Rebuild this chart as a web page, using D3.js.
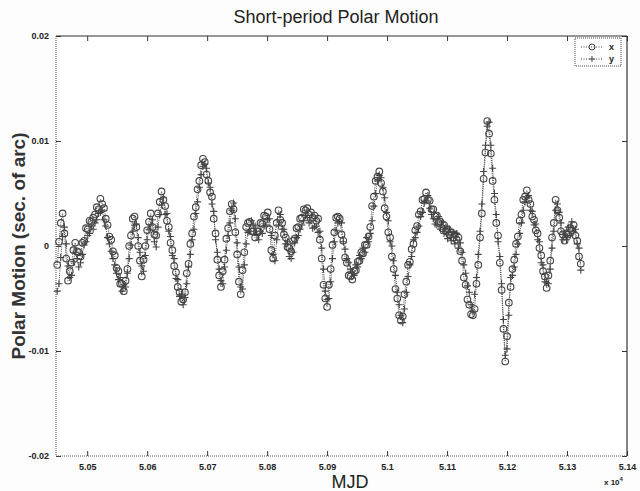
<!DOCTYPE html>
<html>
<head>
<meta charset="utf-8">
<script src="https://cdn.jsdelivr.net/npm/d3@7"></script>
<style>
  body { margin: 0; background: #fdfdfd; }
  svg { display: block; }
  .axis text { font: bold 9px "Liberation Sans", Arial, sans-serif; fill: #222; }
</style>
</head>
<body>
<svg id="chart"></svg>
<script>
// epochs: every 3 days from MJD 50450
var mjd = d3.range(50450, 51326, 3);

// x component of short-period polar motion, 0.001 sec. of arc
var pmX = [
  -1.8, 0.4, 2.2, 3.1, 1.2, -1.2, -3.3, -2.4, -1.6, -0.4,
  0.3, -0.5, -0.6, -1.0, 0.3, 0.5, 1.7, 1.6, 2.4, 2.3,
  2.7, 3.0, 3.7, 3.5, 4.5, 4.0, 3.6, 2.6, 2.0, 0.9,
  0.6, -0.5, -0.9, -2.1, -2.4, -3.6, -3.6, -4.3, -3.3, -2.2,
  0.0, 1.0, 2.6, 2.8, 1.8, 0.0, -1.4, -2.9, -1.3, 0.0,
  1.5, 2.3, 3.1, 1.8, 1.1, 1.0, 3.1, 4.2, 5.2, 4.4,
  3.8, 2.4, 1.8, 0.3, -0.4, -1.9, -2.5, -3.9, -4.4, -5.3,
  -5.1, -4.4, -2.6, -1.7, 0.2, 1.2, 2.8, 3.7, 5.4, 6.2,
  7.7, 8.3, 8.0, 6.8, 6.2, 5.1, 4.7, 2.6, 1.2, -1.3,
  -2.8, -3.9, -2.4, -1.3, 0.7, 1.7, 3.3, 4.0, 3.5, 1.3,
  -0.8, -3.4, -4.6, -2.3, -0.6, 1.8, 2.2, 2.3, 1.4, 1.4,
  0.8, 1.4, 1.4, 2.2, 2.1, 2.9, 2.8, 3.2, 1.6, -0.4,
  -1.2, 1.0, 2.2, 3.4, 2.5, 2.2, 1.1, 0.8, -0.1, -0.2,
  -0.5, 0.5, 0.7, 1.7, 1.8, 2.6, 2.7, 3.5, 3.4, 3.6,
  3.0, 3.2, 2.7, 2.9, 2.4, 2.6, 0.6, -1.2, -3.7, -5.0,
  -5.8, -3.7, -2.2, 0.1, 1.3, 2.7, 2.8, 2.6, 1.1, 0.5,
  -1.1, -1.6, -2.8, -2.9, -3.2, -2.4, -2.3, -1.5, -1.4, -0.6,
  -0.7, 0.1, 0.1, 0.9, 1.8, 3.8, 4.7, 6.2, 6.6, 7.1,
  6.0, 5.2, 3.6, 2.8, 1.3, 0.8, -1.0, -2.2, -4.1, -5.0,
  -6.6, -7.1, -6.7, -4.6, -3.4, -1.8, -1.5, -0.3, 0.2, 1.5,
  1.9, 3.0, 3.3, 4.4, 4.5, 5.1, 4.4, 4.3, 3.5, 3.5,
  2.8, 2.9, 2.2, 2.3, 1.7, 2.0, 1.4, 1.6, 1.1, 1.3,
  0.8, 1.1, 0.6, 0.8, -0.5, -1.4, -3.0, -3.7, -5.1, -5.6,
  -6.5, -6.6, -6.0, -3.6, -1.8, 0.8, 3.1, 6.4, 8.9, 11.9,
  10.7, 8.8, 6.2, 4.4, 2.2, 1.0, -1.6, -4.2, -7.9, -11.0,
  -8.6, -5.4, -3.9, -2.2, -1.3, 0.2, 0.9, 2.4, 3.0, 4.4,
  4.7, 5.3, 4.4, 4.0, 2.8, 2.5, 1.5, 1.2, -0.2, -0.9,
  -2.4, -2.9, -4.0, -2.8, -1.4, 0.8, 2.2, 4.4, 3.4, 2.7,
  1.4, 1.1, 0.5, 1.2, 1.1, 1.7, 1.5, 2.0, 1.0, 0.5,
  -1.0, -1.7
];

// y component, same epochs
var pmY = [
  -4.3, -3.6, -1.1, 0.9, 1.8, 0.2, -1.9, -3.0, -2.8, -1.5,
  -0.6, -1.2, -2.0, -1.6, -0.8, 0.1, 0.4, 1.0, 1.2, 1.9,
  1.6, 2.2, 2.5, 3.1, 3.2, 3.4, 2.5, 1.9, 0.8, 0.2,
  -0.5, -1.2, -1.8, -2.6, -3.2, -3.0, -4.3, -3.7, -3.9, -2.6,
  -1.2, 0.1, 1.4, 2.0, 2.1, 0.8, -0.6, -1.9, -2.4, -0.9,
  0.6, 1.6, 2.0, 2.5, 0.4, -0.1, 1.8, 3.0, 3.9, 4.6,
  3.0, 3.1, 1.4, 0.9, -0.9, -1.2, -3.1, -3.2, -4.8, -4.6,
  -5.6, -4.9, -3.6, -2.0, -0.8, 0.6, 1.6, 3.1, 4.2, 5.6,
  6.8, 7.6, 7.8, 7.4, 6.0, 5.6, 4.0, 3.3, 0.6, -0.6,
  -2.2, -3.3, -3.6, -2.0, -0.4, 1.0, 2.2, 3.4, 4.1, 2.6,
  0.3, -2.0, -3.9, -4.1, -1.8, 0.2, 1.3, 1.4, 2.4, 2.0,
  1.9, 1.0, 0.6, 1.4, 1.2, 1.9, 2.0, 2.5, 2.6, 1.0,
  -0.8, -1.4, 0.6, 2.0, 3.0, 1.6, 1.6, 0.2, 0.4, -1.0,
  -1.2, -0.6, 0.3, 0.8, 1.0, 1.6, 2.0, 2.4, 2.9, 2.7,
  2.2, 2.4, 1.7, 1.8, 1.9, 1.3, 1.4, -0.2, -2.2, -4.3,
  -5.1, -5.0, -3.4, -1.2, 0.4, 1.5, 2.2, 2.3, 2.2, 0.4,
  -0.3, -1.2, -1.6, -2.2, -2.4, -2.8, -1.8, -2.0, -0.9, -1.2,
  -0.2, -0.6, 0.8, 0.4, 1.2, 2.4, 3.8, 5.0, 6.2, 6.7,
  6.5, 5.6, 4.6, 3.2, 2.4, 0.4, 0.0, -1.4, -2.8, -4.4,
  -5.6, -6.6, -7.3, -6.0, -4.4, -2.9, -1.8, -1.0, 0.6, 0.8,
  1.3, 1.9, 2.8, 3.2, 4.1, 4.3, 4.8, 3.6, 3.0, 2.6,
  2.1, 2.0, 2.8, 1.6, 2.3, 1.2, 1.8, 0.7, 1.6, 0.5,
  1.3, 0.2, 1.2, -0.2, 0.3, -0.6, -1.8, -2.6, -3.8, -4.4,
  -5.6, -6.2, -4.6, -3.0, -0.8, 1.4, 4.0, 7.1, 9.6, 11.4,
  11.8, 9.6, 7.4, 5.0, 3.0, 0.4, -1.0, -3.6, -7.0, -10.4,
  -9.8, -6.6, -3.0, -2.8, -2.0, -0.8, 0.2, 1.2, 2.2, 3.4,
  4.2, 4.6, 4.8, 3.4, 3.3, 2.0, 2.1, 0.6, 0.4, -1.6,
  -1.8, -3.4, -3.5, -3.6, -2.2, -0.2, 1.4, 3.4, 4.0, 3.2,
  2.2, 0.6, 1.1, 0.6, 1.8, 1.0, 2.3, 1.4, 1.6, 0.2,
  -0.2, -2.3
];

var xTicks = [50500, 50600, 50700, 50800, 50900, 51000, 51100, 51200, 51300, 51400];
var yTicks = [0.02, 0.01, 0, -0.01, -0.02];
var seriesNames = ["x", "y"];

var total_width = 640, total_height = 491;
var margin = {top: 36, right: 13, bottom: 35, left: 56};
var width = total_width - margin.left - margin.right,
    height = total_height - margin.top - margin.bottom;
var ink = "#444";
var font = "'Liberation Sans', Arial, sans-serif";

var svg = d3.select("#chart")
    .attr("width", total_width)
    .attr("height", total_height);

var chart = svg.append("g")
    .attr("transform", "translate(" + margin.left + "," + margin.top + ")");

var x_scaler = d3.scaleLinear()
    .domain([50448, 51400])
    .range([0, width]);

var y_scaler = d3.scaleLinear()
    .domain([-0.02, 0.02])
    .range([height, 0]);

chart.append("rect")
    .attr("width", width)
    .attr("height", height)
    .style("fill", "#fff");

// ticks point inward, matlab style
chart.append("g")
    .attr("class", "axis")
    .attr("transform", "translate(0," + height + ")")
    .call(d3.axisBottom(x_scaler).tickValues(xTicks).tickSizeInner(-5).tickSizeOuter(0).tickPadding(8)
      .tickFormat(function(d) { return String(+(d / 1e4).toFixed(2)); }));

chart.append("g")
    .attr("class", "axis")
    .call(d3.axisTop(x_scaler).tickValues(xTicks).tickSizeInner(-5).tickSizeOuter(0).tickFormat(""));

chart.append("g")
    .attr("class", "axis")
    .call(d3.axisLeft(y_scaler).tickValues(yTicks).tickSizeInner(-5).tickSizeOuter(0).tickPadding(7)
      .tickFormat(function(d) { return d === 0 ? "0" : String(d); }));

chart.append("g")
    .attr("class", "axis")
    .attr("transform", "translate(" + width + ",0)")
    .call(d3.axisRight(y_scaler).tickValues(yTicks).tickSizeInner(-5).tickSizeOuter(0).tickFormat(""));

chart.selectAll(".axis .domain").remove();
chart.selectAll(".axis line").style("stroke", "#333");

// frame: left/bottom faded, top/right solid as in the scan
chart.append("line").attr("x1", 0).attr("x2", 0).attr("y1", 0).attr("y2", height)
    .style("stroke", "#555").style("stroke-dasharray", "1,1");
chart.append("line").attr("x1", 0).attr("x2", width).attr("y1", height).attr("y2", height)
    .style("stroke", "#555").style("stroke-dasharray", "1,1");
chart.append("line").attr("x1", 0).attr("x2", width).attr("y1", 0).attr("y2", 0)
    .style("stroke", "#333").style("stroke-width", 1.2);
chart.append("line").attr("x1", width).attr("x2", width).attr("y1", 0).attr("y2", height)
    .style("stroke", "#333").style("stroke-width", 1.2);

function drawSeries(values, marker) {
  var pts = values.map(function(v, i) { return {t: mjd[i], v: v / 1000}; });

  var line = d3.line()
      .x(function(d) { return x_scaler(d.t); })
      .y(function(d) { return y_scaler(d.v); });

  chart.append("path")
      .datum(pts)
      .attr("d", line)
      .style("fill", "none")
      .style("stroke", ink)
      .style("stroke-width", 1)
      .style("stroke-dasharray", "1,1.2");

  var g = chart.append("g");
  if (marker == "o") {
    g.selectAll("circle")
      .data(pts)
      .enter().append("circle")
      .attr("cx", function(d) { return x_scaler(d.t); })
      .attr("cy", function(d) { return y_scaler(d.v); })
      .attr("r", 3.3)
      .style("fill", "none")
      .style("stroke", ink)
      .style("stroke-width", 1.1);
  } else {
    g.selectAll("path")
      .data(pts)
      .enter().append("path")
      .attr("transform", function(d) { return "translate(" + x_scaler(d.t) + "," + y_scaler(d.v) + ")"; })
      .attr("d", "M-3.5,0H3.5M0,-3.5V3.5")
      .style("stroke", ink)
      .style("stroke-width", 1.1);
  }
}

drawSeries(pmY, "+");
drawSeries(pmX, "o");

// legend
var legend = chart.append("g")
    .attr("transform", "translate(" + (width - 52) + ",2)");

legend.append("rect")
    .attr("width", 46)
    .attr("height", 28)
    .style("fill", "#fff")
    .style("stroke", "#444")
    .style("stroke-dasharray", "1,1");

var items = legend.selectAll(".legend")
    .data(seriesNames)
    .enter().append("g")
    .attr("class", "legend")
    .attr("transform", function(d, i) { return "translate(0," + (9 + i * 12) + ")"; });

items.append("line")
    .attr("x1", 6).attr("x2", 28)
    .style("stroke", ink)
    .style("stroke-dasharray", "1,1.5");

items.append("path")
    .attr("transform", "translate(17,0)")
    .attr("d", function(d) { return d == "x" ? d3.symbol(d3.symbolCircle, 28)() : "M-3,0H3M0,-3V3"; })
    .style("fill", "none")
    .style("stroke", ink);

items.append("text")
    .attr("x", 34)
    .attr("dy", "0.35em")
    .style("font", "bold 9px " + font)
    .style("fill", "#222")
    .text(function(d) { return d; });

// titles
svg.append("text")
    .attr("x", 336)
    .attr("y", 23)
    .attr("text-anchor", "middle")
    .style("font", "18px " + font)
    .style("fill", "#222")
    .text("Short-period Polar Motion");

svg.append("text")
    .attr("transform", "translate(25," + (margin.top + height / 2) + ") rotate(-90)")
    .attr("text-anchor", "middle")
    .style("font", "bold 19px " + font)
    .style("fill", "#333")
    .text("Polar Motion (sec. of arc)");

svg.append("text")
    .attr("x", 350)
    .attr("y", 488)
    .attr("text-anchor", "middle")
    .style("font", "18px " + font)
    .style("fill", "#222")
    .text("MJD");

var mult = svg.append("text")
    .attr("x", 604)
    .attr("y", 485)
    .style("font", "bold 8px " + font)
    .style("fill", "#222");
mult.append("tspan").text("x 10");
mult.append("tspan").attr("dy", -4).style("font-size", "6px").text("4");
</script>
</body>
</html>
